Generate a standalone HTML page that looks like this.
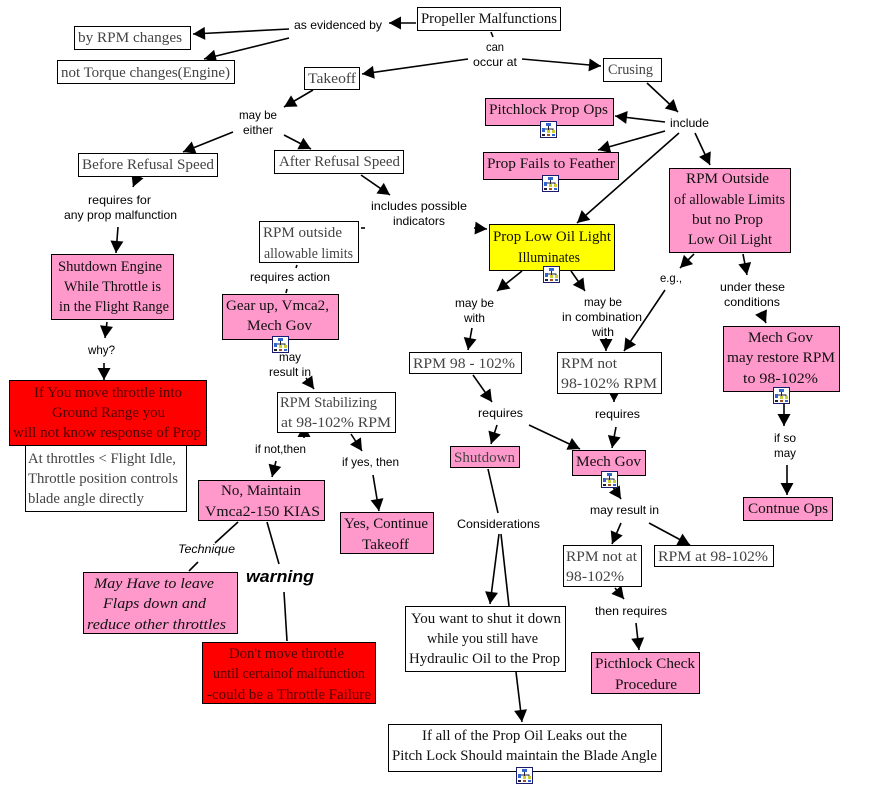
<!DOCTYPE html>
<html><head><meta charset="utf-8">
<style>
html,body{margin:0;padding:0;background:#fff}
svg{display:block}
.n{font:15px "Liberation Serif",serif;fill:#111}
.g{fill:#444}
.d{fill:#500000}
.l{font:12px "Liberation Sans",sans-serif;fill:#000}
line{stroke:#000;stroke-width:1.6}
line.a{marker-end:url(#h)}
.b rect{stroke:#000;stroke-width:1}
.w{fill:#fff}.p{fill:#ff99cc}.r{fill:#ff0000}.y{fill:#ffff00}
</style></head>
<body>
<svg xmlns="http://www.w3.org/2000/svg" width="882" height="812" viewBox="0 0 882 812">
<defs>
<marker id="h" markerUnits="userSpaceOnUse" markerWidth="15" markerHeight="15" viewBox="0 0 15 15" refX="13" refY="7.500" orient="auto"><path d="M1 1 L13 7.500 L1 14 Z" fill="#000"/></marker>
<symbol id="i" width="17" height="17" viewBox="0 0 17 17">
<rect x=".5" y=".5" width="16" height="16" fill="#fff" stroke="#1a1a6e"/>
<rect x="6" y="2" width="5" height="3" fill="#3366cc"/>
<path d="M8.500 5V8M4 11V8H13V11M8.500 8V11" fill="none" stroke="#223" stroke-width="1"/>
<rect x="2" y="7" width="3" height="4" fill="#3366cc"/>
<rect x="7" y="9" width="3" height="3" fill="#cccc33"/>
<rect x="12" y="9" width="3" height="3" fill="#cccc33"/>
<rect x="2" y="13" width="3" height="2" fill="#223"/>
<rect x="7" y="13" width="3" height="2" fill="#a05020"/>
<rect x="12" y="13" width="3" height="2" fill="#3366cc"/>
</symbol>
</defs>

<g>
<line class="a" x1="416" y1="23" x2="389" y2="23"/>
<line class="a" x1="289" y1="29" x2="193" y2="34"/>
<line class="a" x1="289" y1="38" x2="204" y2="59"/>
<line x1="491" y1="32" x2="493" y2="37"/>
<line class="a" x1="468" y1="59" x2="362" y2="74"/>
<line class="a" x1="522" y1="59" x2="601" y2="66"/>
<line class="a" x1="313" y1="90" x2="284" y2="107"/>
<line class="a" x1="233" y1="132" x2="183" y2="152"/>
<line class="a" x1="284" y1="135" x2="311" y2="149"/>
<line class="a" x1="137" y1="177" x2="133" y2="187"/>
<line class="a" x1="118" y1="227" x2="116" y2="253"/>
<line class="a" x1="361" y1="175" x2="390" y2="195"/>
<line class="a" x1="474" y1="228" x2="487" y2="229"/>
<line x1="361" y1="228" x2="365" y2="228"/>
<line x1="297" y1="265" x2="296" y2="268"/>
<line x1="287" y1="289" x2="286" y2="293"/>
<line class="a" x1="107" y1="322" x2="105" y2="338"/>
<line class="a" x1="104" y1="363" x2="104" y2="380"/>
<line class="a" x1="306" y1="378" x2="314" y2="389"/>
<line class="a" x1="304" y1="438" x2="304" y2="425"/>
<line class="a" x1="276" y1="461" x2="272" y2="477"/>
<line class="a" x1="351" y1="434" x2="362" y2="451"/>
<line class="a" x1="373" y1="475" x2="379" y2="511"/>
<line x1="238" y1="522" x2="215" y2="543"/>
<line x1="198" y1="562" x2="189" y2="571"/>
<line x1="267" y1="522" x2="279" y2="564"/>
<line x1="284" y1="592" x2="287" y2="641"/>
<line class="a" x1="647" y1="83" x2="678" y2="112"/>
<line class="a" x1="665" y1="122" x2="615" y2="116"/>
<line class="a" x1="665" y1="131" x2="598" y2="150"/>
<line class="a" x1="679" y1="133" x2="577" y2="223"/>
<line class="a" x1="695" y1="133" x2="710" y2="165"/>
<line class="a" x1="694" y1="254" x2="680" y2="268"/>
<line class="a" x1="743" y1="254" x2="747" y2="275"/>
<line class="a" x1="522" y1="271" x2="497" y2="291"/>
<line class="a" x1="571" y1="271" x2="585" y2="291"/>
<line class="a" x1="472" y1="328" x2="468" y2="350"/>
<line class="a" x1="606" y1="338" x2="606" y2="351"/>
<line class="a" x1="665" y1="290" x2="624" y2="351"/>
<line class="a" x1="761" y1="312" x2="766" y2="323"/>
<line class="a" x1="473" y1="375" x2="492" y2="402"/>
<line class="a" x1="614" y1="390" x2="614" y2="402"/>
<line class="a" x1="497" y1="425" x2="491" y2="444"/>
<line class="a" x1="529" y1="425" x2="580" y2="449"/>
<line class="a" x1="616" y1="427" x2="612" y2="448"/>
<line class="a" x1="613" y1="487" x2="621" y2="499"/>
<line class="a" x1="784" y1="403" x2="784" y2="426"/>
<line class="a" x1="787" y1="465" x2="787" y2="495"/>
<line class="a" x1="621" y1="523" x2="612" y2="544"/>
<line class="a" x1="649" y1="523" x2="690" y2="545"/>
<line x1="488" y1="469" x2="498" y2="513"/>
<line class="a" x1="499" y1="534" x2="490" y2="604"/>
<line x1="501" y1="534" x2="509" y2="606"/>
<line class="a" x1="516" y1="672" x2="522" y2="722"/>
<line class="a" x1="636" y1="623" x2="639" y2="650"/>
<line class="a" x1="615" y1="588" x2="624" y2="599"/>
</g>

<g class="b">
<rect class="w" x="417.500" y="7.500" width="143" height="23"/>
<rect class="w" x="74.500" y="26.500" width="116" height="23"/>
<rect class="w" x="57.500" y="60.500" width="177" height="23"/>
<rect class="w" x="304.500" y="67.500" width="55" height="22"/>
<rect class="w" x="78.500" y="153.500" width="139" height="23"/>
<rect class="w" x="274.500" y="150.500" width="129" height="23"/>
<rect class="w" x="259.500" y="221.500" width="99" height="41"/>
<rect class="p" x="51.500" y="254.500" width="122" height="65"/>
<rect class="w" x="603.500" y="58.500" width="58" height="23"/>
<rect class="p" x="485.500" y="98.500" width="128" height="27"/>
<rect class="p" x="483.500" y="152.500" width="135" height="27"/>
<rect class="y" x="489.500" y="224.500" width="125" height="46"/>
<rect class="p" x="669.500" y="168.500" width="121" height="84"/>
<rect class="p" x="222.500" y="294.500" width="116" height="45"/>
<rect class="w" x="277.500" y="392.500" width="118" height="40"/>
<rect class="w" x="25.500" y="445.500" width="161" height="66"/>
<rect class="r" x="9.500" y="380.500" width="197" height="65"/>
<rect class="p" x="198.500" y="480.500" width="126" height="40"/>
<rect class="p" x="340.500" y="512.500" width="93" height="41"/>
<rect class="w" x="409.500" y="352.500" width="112" height="21"/>
<rect class="w" x="557.500" y="352.500" width="104" height="41"/>
<rect class="p" x="723.500" y="326.500" width="116" height="65"/>
<rect class="p" x="450.500" y="446.500" width="69" height="21"/>
<rect class="p" x="572.500" y="450.500" width="73" height="25"/>
<rect class="p" x="743.500" y="497.500" width="89" height="23"/>
<rect class="p" x="83.500" y="572.500" width="154" height="61"/>
<rect class="r" x="202.500" y="642.500" width="173" height="61"/>
<rect class="w" x="563.500" y="545.500" width="78" height="41"/>
<rect class="w" x="654.500" y="545.500" width="119" height="21"/>
<rect class="w" x="405.500" y="606.500" width="160" height="65"/>
<rect class="p" x="591.500" y="652.500" width="108" height="41"/>
<rect class="w" x="388.500" y="724.500" width="273" height="47"/>
</g>

<use href="#i" x="540" y="121"/>
<use href="#i" x="542" y="175"/>
<use href="#i" x="543" y="266"/>
<use href="#i" x="272" y="336"/>
<use href="#i" x="773" y="387"/>
<use href="#i" x="601" y="471"/>
<use href="#i" x="516" y="767"/>

<g class="n">
<text x="421" y="23" textLength="136" lengthAdjust="spacingAndGlyphs">Propeller Malfunctions</text>
<text class="g" x="78" y="42" textLength="104" lengthAdjust="spacingAndGlyphs">by RPM changes</text>
<text class="g" x="61" y="77" textLength="169" lengthAdjust="spacingAndGlyphs">not Torque changes(Engine)</text>
<text class="g" x="308" y="83" textLength="48" lengthAdjust="spacingAndGlyphs">Takeoff</text>
<text class="g" x="82" y="169" textLength="132" lengthAdjust="spacingAndGlyphs">Before Refusal Speed</text>
<text class="g" x="279" y="166" textLength="121" lengthAdjust="spacingAndGlyphs">After Refusal Speed</text>
<text class="g" x="263" y="237" textLength="79" lengthAdjust="spacingAndGlyphs">RPM outside</text>
<text class="g" x="264" y="258" textLength="89" lengthAdjust="spacingAndGlyphs">allowable limits</text>
<text x="58" y="271" textLength="104" lengthAdjust="spacingAndGlyphs">Shutdown Engine</text>
<text x="64" y="291" textLength="97" lengthAdjust="spacingAndGlyphs">While Throttle is</text>
<text x="59" y="311" textLength="110" lengthAdjust="spacingAndGlyphs">in the Flight Range</text>
<text class="g" x="608" y="74" textLength="45" lengthAdjust="spacingAndGlyphs">Crusing</text>
<text x="489" y="114" textLength="119" lengthAdjust="spacingAndGlyphs">Pitchlock Prop Ops</text>
<text x="487" y="168" textLength="128" lengthAdjust="spacingAndGlyphs">Prop Fails to Feather</text>
<text x="493" y="241" textLength="118" lengthAdjust="spacingAndGlyphs">Prop Low Oil Light</text>
<text x="518" y="262" textLength="62" lengthAdjust="spacingAndGlyphs">Illuminates</text>
<text x="686" y="183" textLength="83" lengthAdjust="spacingAndGlyphs">RPM Outside</text>
<text x="674" y="204" textLength="111" lengthAdjust="spacingAndGlyphs">of allowable Limits</text>
<text x="692" y="224" textLength="71" lengthAdjust="spacingAndGlyphs">but no Prop</text>
<text x="688" y="244" textLength="84" lengthAdjust="spacingAndGlyphs">Low Oil Light</text>
<text x="226" y="310" textLength="103" lengthAdjust="spacingAndGlyphs">Gear up, Vmca2,</text>
<text x="247" y="330" textLength="65" lengthAdjust="spacingAndGlyphs">Mech Gov</text>
<text class="d" x="34" y="397" textLength="148" lengthAdjust="spacingAndGlyphs">If You move throttle into</text>
<text class="d" x="52" y="417" textLength="113" lengthAdjust="spacingAndGlyphs">Ground Range you</text>
<text class="d" x="13" y="437" textLength="188" lengthAdjust="spacingAndGlyphs">will not know response of Prop</text>
<text class="g" x="28" y="463" textLength="148" lengthAdjust="spacingAndGlyphs">At throttles &lt; Flight Idle,</text>
<text class="g" x="28" y="483" textLength="150" lengthAdjust="spacingAndGlyphs">Throttle position controls</text>
<text class="g" x="28" y="503" textLength="116" lengthAdjust="spacingAndGlyphs">blade angle directly</text>
<text class="g" x="280" y="407" textLength="97" lengthAdjust="spacingAndGlyphs">RPM Stabilizing</text>
<text class="g" x="281" y="427" textLength="110" lengthAdjust="spacingAndGlyphs">at 98-102% RPM</text>
<text x="221" y="495" textLength="80" lengthAdjust="spacingAndGlyphs">No, Maintain</text>
<text x="205" y="516" textLength="115" lengthAdjust="spacingAndGlyphs">Vmca2-150 KIAS</text>
<text x="344" y="528" textLength="84" lengthAdjust="spacingAndGlyphs">Yes, Continue</text>
<text x="362" y="549" textLength="47" lengthAdjust="spacingAndGlyphs">Takeoff</text>
<text class="g" x="413" y="368" textLength="102" lengthAdjust="spacingAndGlyphs">RPM 98 - 102%</text>
<text class="g" x="561" y="368" textLength="56" lengthAdjust="spacingAndGlyphs">RPM not</text>
<text class="g" x="561" y="388" textLength="96" lengthAdjust="spacingAndGlyphs">98-102% RPM</text>
<text x="748" y="342" textLength="65" lengthAdjust="spacingAndGlyphs">Mech Gov</text>
<text x="727" y="362" textLength="108" lengthAdjust="spacingAndGlyphs">may restore RPM</text>
<text x="743" y="383" textLength="75" lengthAdjust="spacingAndGlyphs">to 98-102%</text>
<text class="g" x="454" y="462" textLength="61" lengthAdjust="spacingAndGlyphs">Shutdown</text>
<text x="576" y="466" textLength="65" lengthAdjust="spacingAndGlyphs">Mech Gov</text>
<text x="748" y="513" textLength="80" lengthAdjust="spacingAndGlyphs">Contnue Ops</text>
<text style="font-style:italic" x="94" y="588" textLength="120" lengthAdjust="spacingAndGlyphs">May Have to leave</text>
<text style="font-style:italic" x="103" y="608" textLength="103" lengthAdjust="spacingAndGlyphs">Flaps down and</text>
<text style="font-style:italic" x="87" y="629" textLength="139" lengthAdjust="spacingAndGlyphs">reduce other throttles</text>
<text class="d" x="229" y="658" textLength="115" lengthAdjust="spacingAndGlyphs">Don't move throttle</text>
<text class="d" x="213" y="678" textLength="152" lengthAdjust="spacingAndGlyphs">until certainof malfunction</text>
<text class="d" x="207" y="699" textLength="164" lengthAdjust="spacingAndGlyphs">-could be a Throttle Failure</text>
<text class="g" x="566" y="561" textLength="71" lengthAdjust="spacingAndGlyphs">RPM not at</text>
<text class="g" x="566" y="581" textLength="58" lengthAdjust="spacingAndGlyphs">98-102%</text>
<text class="g" x="658" y="561" textLength="110" lengthAdjust="spacingAndGlyphs">RPM at 98-102%</text>
<text x="411" y="623" textLength="150" lengthAdjust="spacingAndGlyphs">You want to shut it down</text>
<text x="427" y="643" textLength="111" lengthAdjust="spacingAndGlyphs">while you still have</text>
<text x="409" y="663" textLength="151" lengthAdjust="spacingAndGlyphs">Hydraulic Oil to the Prop</text>
<text x="595" y="668" textLength="100" lengthAdjust="spacingAndGlyphs">Picthlock Check</text>
<text x="615" y="689" textLength="62" lengthAdjust="spacingAndGlyphs">Procedure</text>
<text x="422" y="740" textLength="205" lengthAdjust="spacingAndGlyphs">If all of the Prop Oil Leaks out the</text>
<text x="392" y="760" textLength="265" lengthAdjust="spacingAndGlyphs">Pitch Lock Should maintain the Blade Angle</text>
</g>

<g class="l">
<text x="294" y="29" textLength="88" lengthAdjust="spacingAndGlyphs">as evidenced by</text>
<text x="486" y="51" textLength="18" lengthAdjust="spacingAndGlyphs">can</text>
<text x="473" y="66" textLength="44" lengthAdjust="spacingAndGlyphs">occur at</text>
<text x="239" y="119" textLength="38" lengthAdjust="spacingAndGlyphs">may be</text>
<text x="243" y="134" textLength="30" lengthAdjust="spacingAndGlyphs">either</text>
<text x="88" y="204" textLength="63" lengthAdjust="spacingAndGlyphs">requires for</text>
<text x="64" y="219" textLength="113" lengthAdjust="spacingAndGlyphs">any prop malfunction</text>
<text x="371" y="210" textLength="96" lengthAdjust="spacingAndGlyphs">includes possible</text>
<text x="393" y="225" textLength="52" lengthAdjust="spacingAndGlyphs">indicators</text>
<text x="670" y="127" textLength="39" lengthAdjust="spacingAndGlyphs">include</text>
<text x="250" y="281" textLength="80" lengthAdjust="spacingAndGlyphs">requires action</text>
<text x="88" y="354" textLength="27" lengthAdjust="spacingAndGlyphs">why?</text>
<text x="279" y="361" textLength="22" lengthAdjust="spacingAndGlyphs">may</text>
<text x="269" y="376" textLength="42" lengthAdjust="spacingAndGlyphs">result in</text>
<text x="255" y="453" textLength="51" lengthAdjust="spacingAndGlyphs">if not,then</text>
<text x="342" y="466" textLength="57" lengthAdjust="spacingAndGlyphs">if yes, then</text>
<text x="455" y="307" textLength="39" lengthAdjust="spacingAndGlyphs">may be</text>
<text x="464" y="322" textLength="21" lengthAdjust="spacingAndGlyphs">with</text>
<text x="584" y="306" textLength="38" lengthAdjust="spacingAndGlyphs">may be</text>
<text x="562" y="321" textLength="80" lengthAdjust="spacingAndGlyphs">in combination</text>
<text x="592" y="336" textLength="22" lengthAdjust="spacingAndGlyphs">with</text>
<text x="660" y="282" textLength="22" lengthAdjust="spacingAndGlyphs">e.g.,</text>
<text x="720" y="291" textLength="65" lengthAdjust="spacingAndGlyphs">under these</text>
<text x="724" y="306" textLength="56" lengthAdjust="spacingAndGlyphs">conditions</text>
<text x="478" y="417" textLength="45" lengthAdjust="spacingAndGlyphs">requires</text>
<text x="595" y="418" textLength="45" lengthAdjust="spacingAndGlyphs">requires</text>
<text x="457" y="528" textLength="83" lengthAdjust="spacingAndGlyphs">Considerations</text>
<text x="590" y="514" textLength="69" lengthAdjust="spacingAndGlyphs">may result in</text>
<text x="774" y="442" textLength="22" lengthAdjust="spacingAndGlyphs">if so</text>
<text x="774" y="457" textLength="22" lengthAdjust="spacingAndGlyphs">may</text>
<text x="595" y="615" textLength="72" lengthAdjust="spacingAndGlyphs">then requires</text>
<text style="font-style:italic" x="178" y="553" textLength="57" lengthAdjust="spacingAndGlyphs">Technique</text>
<text style="font:italic bold 17px 'Liberation Sans',sans-serif" x="246" y="582" textLength="68" lengthAdjust="spacingAndGlyphs">warning</text>
</g>
</svg>
</body></html>
